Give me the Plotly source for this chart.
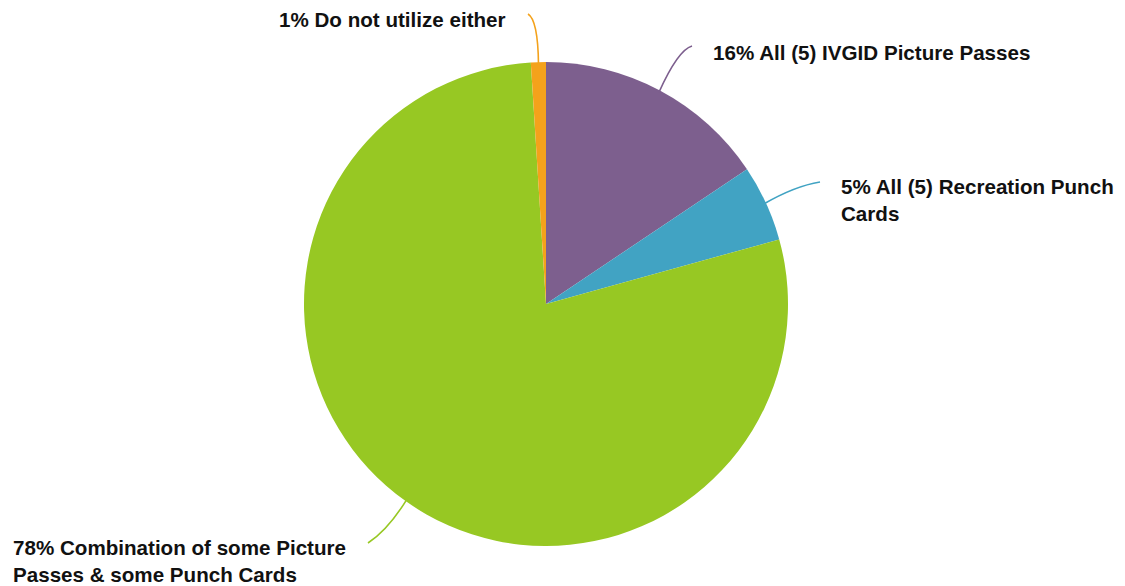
import math
import plotly.graph_objects as go

labels = ["All (5) IVGID Picture Passes", "All (5) Recreation Punch Cards",
          "Combination of some Picture Passes & some Punch Cards", "Do not utilize either"]
values = [15.6, 5.1, 78.3, 1.0]
colors = ["#7D5F8E", "#41A3C3", "#97C823", "#F4A21B"]
label_text = ["16% All (5) IVGID Picture Passes",
              "5% All (5) Recreation Punch<br>Cards",
              "78% Combination of some Picture<br>Passes & some Punch Cards",
              "1% Do not utilize either"]

W, H = 1125, 586
cx, cy, R = 546, 304, 242

fig = go.Figure()
fig.add_trace(go.Pie(
    labels=labels, values=values, sort=False, direction="clockwise", rotation=0,
    marker=dict(colors=colors, line=dict(width=0)), textinfo="none", hoverinfo="label+percent",
    showlegend=False,
    domain=dict(x=[(cx - R) / W, (cx + R) / W], y=[(H - cy - R) / H, (H - cy + R) / H]),
))

# label layout: (text x, text y, control point, end point)
label_pos = [
    (711, 52, (678, 50), (692, 46)),
    (839, 200, (795, 186), (820, 182)),
    (11, 561, (388, 530), (368, 543)),
    (277, 19, (538, 20), (528, 14)),
]

total = sum(values)
cum = 0
shapes = []
annotations = []
for v, col, txt, (tx, ty, ctrl, end) in zip(values, colors, label_text, label_pos):
    mid = (cum + v / 2) / total * 2 * math.pi
    cum += v
    sx = cx + R * 0.99 * math.sin(mid)
    sy = cy - R * 0.99 * math.cos(mid)
    shapes.append(dict(type="path", xref="x", yref="y",
                       path=f"M {sx:.1f},{sy:.1f} Q {ctrl[0]},{ctrl[1]} {end[0]},{end[1]}",
                       line=dict(color=col, width=1.6)))
    annotations.append(dict(x=tx, y=ty, xref="x", yref="y", text=f"<b>{txt}</b>",
                            showarrow=False, xanchor="left", yanchor="middle", align="left",
                            font=dict(family="Liberation Sans, Arial, sans-serif", size=20.6, color="#111111")))

fig.add_trace(go.Scatter(x=[0, W], y=[0, H], mode="markers", marker=dict(opacity=0),
                         hoverinfo="skip", showlegend=False))

fig.update_layout(
    width=W, height=H, margin=dict(l=0, r=0, t=0, b=0),
    paper_bgcolor="white", plot_bgcolor="rgba(0,0,0,0)",
    xaxis=dict(range=[0, W], visible=False, domain=[0, 1], fixedrange=True),
    yaxis=dict(range=[H, 0], visible=False, domain=[0, 1], fixedrange=True),
    shapes=shapes, annotations=annotations,
)
fig.write_html("out.html", config={"displayModeBar": False},
               post_script="document.body.style.margin='0';document.body.style.overflow='hidden';")
